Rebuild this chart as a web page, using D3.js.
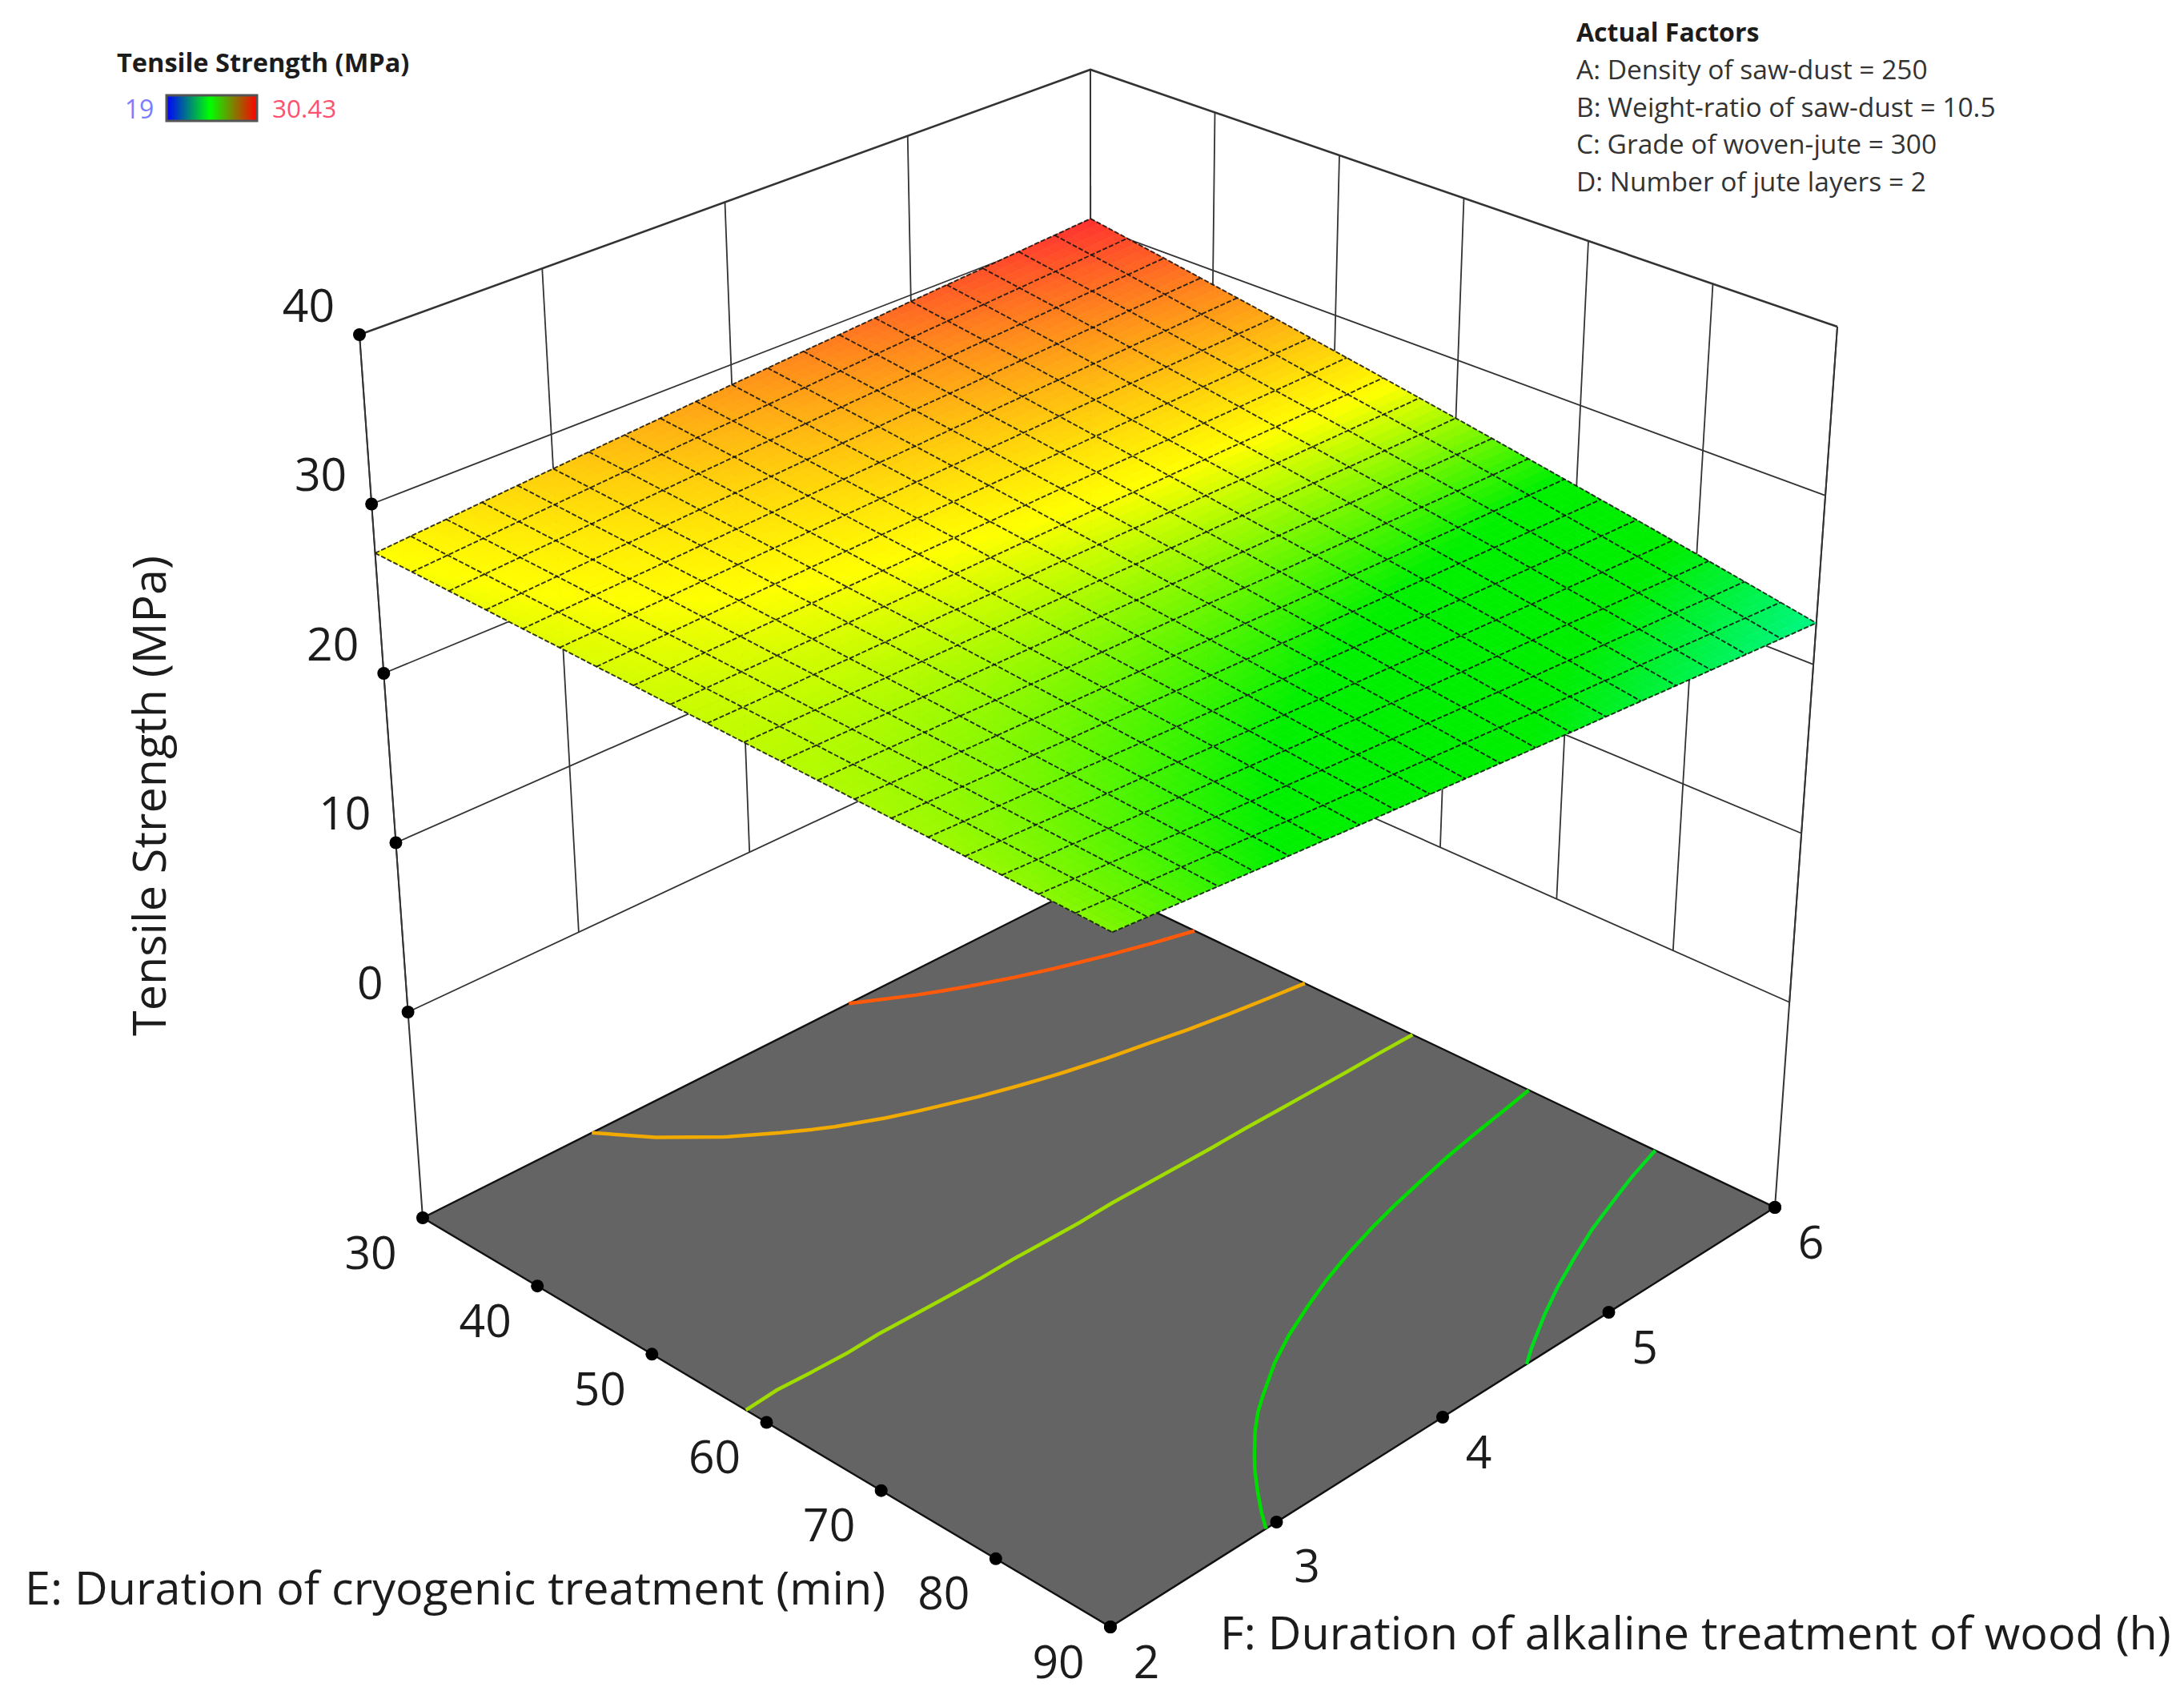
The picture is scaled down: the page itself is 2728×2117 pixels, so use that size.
<!DOCTYPE html>
<html>
<head>
<meta charset="utf-8">
<title>Tensile Strength surface</title>
<script src="https://cdn.jsdelivr.net/npm/d3@7"></script>
<style>
  body { margin: 0; background: #fff; }
  text { font-family: "Open Sans", sans-serif; fill: #1c1c1c; }
</style>
</head>
<body>
<script>
// values
var eTicks = [30, 40, 50, 60, 70, 80, 90];
var fTicks = [2, 3, 4, 5, 6];
var zTicks = [0, 10, 20, 30, 40];
var eGrid = [30, 33, 36, 39, 42, 45, 48, 51, 54, 57, 60, 63, 66, 69, 72, 75, 78, 81, 84, 87, 90];
var fGrid = [2, 2.2, 2.4, 2.6, 2.8, 3, 3.2, 3.4, 3.6, 3.8, 4, 4.2, 4.4, 4.6, 4.8, 5, 5.2, 5.4, 5.6, 5.8, 6];
// one row per value of E, one column per value of F
var strength = [
  [27.10,27.27,27.43,27.60,27.77,27.93,28.10,28.27,28.43,28.60,28.77,28.93,29.10,29.26,29.43,29.60,29.76,29.93,30.10,30.26,30.43],
  [27.06,27.20,27.35,27.50,27.65,27.80,27.95,28.10,28.25,28.39,28.54,28.69,28.84,28.99,29.14,29.29,29.44,29.58,29.73,29.88,30.03],
  [27.01,27.14,27.27,27.40,27.53,27.67,27.80,27.93,28.06,28.19,28.32,28.45,28.58,28.71,28.85,28.98,29.11,29.24,29.37,29.50,29.63],
  [26.97,27.08,27.19,27.31,27.42,27.53,27.65,27.76,27.87,27.99,28.10,28.21,28.33,28.44,28.55,28.67,28.78,28.89,29.01,29.12,29.23],
  [26.92,27.02,27.11,27.21,27.30,27.40,27.49,27.59,27.69,27.78,27.88,27.97,28.07,28.16,28.26,28.36,28.45,28.55,28.64,28.74,28.83],
  [26.88,26.95,27.03,27.11,27.19,27.27,27.34,27.42,27.50,27.58,27.66,27.73,27.81,27.89,27.97,28.05,28.12,28.20,28.28,28.36,28.44],
  [26.83,26.89,26.95,27.01,27.07,27.13,27.19,27.25,27.31,27.37,27.43,27.49,27.55,27.61,27.67,27.73,27.79,27.86,27.92,27.98,28.04],
  [26.79,26.83,26.87,26.91,26.96,27.00,27.04,27.08,27.13,27.17,27.21,27.25,27.30,27.34,27.38,27.42,27.47,27.51,27.55,27.59,27.64],
  [26.74,26.76,26.79,26.81,26.84,26.86,26.89,26.91,26.94,26.96,26.99,27.01,27.04,27.06,27.09,27.11,27.14,27.16,27.19,27.21,27.24],
  [26.70,26.70,26.71,26.72,26.72,26.73,26.74,26.75,26.75,26.76,26.77,26.77,26.78,26.79,26.80,26.80,26.81,26.82,26.83,26.83,26.84],
  [26.65,26.64,26.63,26.62,26.61,26.60,26.59,26.58,26.57,26.56,26.55,26.53,26.52,26.51,26.50,26.49,26.48,26.47,26.46,26.45,26.44],
  [26.61,26.58,26.55,26.52,26.49,26.46,26.44,26.41,26.38,26.35,26.32,26.29,26.27,26.24,26.21,26.18,26.15,26.13,26.10,26.07,26.04],
  [26.56,26.51,26.47,26.42,26.38,26.33,26.28,26.24,26.19,26.15,26.10,26.06,26.01,25.96,25.92,25.87,25.83,25.78,25.73,25.69,25.64],
  [26.52,26.45,26.39,26.32,26.26,26.20,26.13,26.07,26.01,25.94,25.88,25.82,25.75,25.69,25.62,25.56,25.50,25.43,25.37,25.31,25.24],
  [26.47,26.39,26.31,26.23,26.14,26.06,25.98,25.90,25.82,25.74,25.66,25.58,25.49,25.41,25.33,25.25,25.17,25.09,25.01,24.93,24.84],
  [26.43,26.33,26.23,26.13,26.03,25.93,25.83,25.73,25.63,25.53,25.44,25.34,25.24,25.14,25.04,24.94,24.84,24.74,24.64,24.54,24.45],
  [26.38,26.26,26.15,26.03,25.91,25.80,25.68,25.56,25.45,25.33,25.21,25.10,24.98,24.86,24.75,24.63,24.51,24.40,24.28,24.16,24.05],
  [26.34,26.20,26.07,25.93,25.80,25.66,25.53,25.39,25.26,25.13,24.99,24.86,24.72,24.59,24.45,24.32,24.19,24.05,23.92,23.78,23.65],
  [26.29,26.14,25.99,25.83,25.68,25.53,25.38,25.23,25.07,24.92,24.77,24.62,24.47,24.31,24.16,24.01,23.86,23.70,23.55,23.40,23.25],
  [26.25,26.08,25.91,25.74,25.57,25.40,25.23,25.06,24.89,24.72,24.55,24.38,24.21,24.04,23.87,23.70,23.53,23.36,23.19,23.02,22.85],
  [26.20,26.01,25.83,25.64,25.45,25.26,25.08,24.89,24.70,24.51,24.33,24.14,23.95,23.76,23.58,23.39,23.20,23.01,22.83,22.64,22.45]
];
var contourLevels = [23.85, 25.32, 26.68, 27.94, 29.22];
var contourColors = ["#00dc1e", "#00dc00", "#a0dc00", "#f0aa00", "#ff5a0a"];
var factorLines = [
  "A: Density of saw-dust = 250",
  "B: Weight-ratio of saw-dust = 10.5",
  "C: Grade of woven-jute = 300",
  "D: Number of jute layers = 2"
];

var w = 2728;
var h = 2117;

var svg = d3.select("body")
  .append("svg")
  .attr("width", w)
  .attr("height", h)
  .style("display", "block");

// box corners on screen, named by [E end, F end]
var floorBox = { lowLow: [528, 1521], highLow: [1387, 2032], highHigh: [2217, 1508], lowHigh: [1363, 1101] };
var topBox = { lowLow: [449, 418], highLow: [1390, 852], highHigh: [2295, 408], lowHigh: [1362, 87] };
var zFloor = -12.15;

var eScale = d3.scaleLinear().domain([30, 90]).range([0, 1]);
var fScale = d3.scaleLinear().domain([2, 6]).range([0, 1]);
var zScale = d3.scaleLinear().domain([zFloor, 40]).range([0, 1]);
// grid index to value, for the contours
var eIndex = d3.scaleLinear().domain([0, 20]).range([30, 90]);
var fIndex = d3.scaleLinear().domain([0, 20]).range([2, 6]);

var bilinear = function(box, u, v) {
  return [0, 1].map(function(k) {
    return (1 - u) * (1 - v) * box.lowLow[k] + u * (1 - v) * box.highLow[k] +
      u * v * box.highHigh[k] + (1 - u) * v * box.lowHigh[k];
  });
}

var project = function(e, f, z) {
  var u = eScale(e), v = fScale(f), t = zScale(z);
  var a = bilinear(floorBox, u, v);
  var b = bilinear(topBox, u, v);
  return [a[0] + (b[0] - a[0]) * t, a[1] + (b[1] - a[1]) * t];
}

var line = d3.line();

var colour = d3.scaleLinear()
  .domain([19, 21, 24, 25.3, 27.1, 30.43])
  .range(["#0000ff", "#00ffff", "#00ee00", "#00f000", "#ffff00", "#ff3030"])
  .clamp(true);

// back walls
var walls = svg.append("g")
  .attr("fill", "none")
  .attr("stroke", "#333");

zTicks.forEach(function(z) {
  walls.append("path")
    .attr("d", line([project(30, 2, z), project(30, 6, z), project(90, 6, z)]))
    .attr("stroke-width", z === 40 ? 2.6 : 1.8);
});
fTicks.forEach(function(f) {
  walls.append("path")
    .attr("d", line([project(30, f, 0), project(30, f, 40)]))
    .attr("stroke-width", 1.8);
});
eTicks.forEach(function(e) {
  walls.append("path")
    .attr("d", line([project(e, 6, 0), project(e, 6, 40)]))
    .attr("stroke-width", 1.8);
});
walls.append("path")
  .attr("d", line([project(30, 2, zFloor), project(30, 2, 40)]))
  .attr("stroke-width", 2);
walls.append("path")
  .attr("d", line([project(90, 6, zFloor), project(90, 6, 40)]))
  .attr("stroke-width", 2);

// floor
svg.append("path")
  .attr("d", line([project(30, 2, zFloor), project(90, 2, zFloor), project(90, 6, zFloor), project(30, 6, zFloor)]) + "Z")
  .attr("fill", "#646464")
  .attr("stroke", "#111")
  .attr("stroke-width", 2.4);

// contours on the floor, taken from the same grid
var contourGen = d3.contours()
  .size([fGrid.length, eGrid.length])
  .thresholds(contourLevels);

// d3.contours closes each ring around the edge of the grid, only keep the inner run
var innerRuns = function(ring) {
  var n = eGrid.length;
  var inside = function(p) {
    return p[0] >= 0.5 && p[0] <= n - 0.5 && p[1] >= 0.5 && p[1] <= n - 0.5;
  };
  var start = 0;
  while (start < ring.length && inside(ring[start])) start++;
  var runs = [], run = [];
  for (let i = 0; i < ring.length; i++) {
    let p = ring[(start + i) % ring.length];
    if (inside(p)) {
      run.push(p);
    } else {
      if (run.length > 1) runs.push(run);
      run = [];
    }
  }
  if (run.length > 1) runs.push(run);
  return runs;
}

var contourGroup = svg.append("g")
  .attr("fill", "none")
  .attr("stroke-width", 4.5);

contourGen(strength.flat()).forEach(function(c, i) {
  c.coordinates.forEach(function(polygon) {
    polygon.forEach(function(ring) {
      innerRuns(ring).forEach(function(run) {
        contourGroup.append("path")
          .attr("d", line(run.map(function(p) {
            return project(eIndex(p[1] - 0.5), fIndex(p[0] - 0.5), zFloor);
          })))
          .attr("stroke", contourColors[i]);
      });
    });
  });
});

// surface, every cell is split a few times so the colour runs smooth
var steps = 4;
var patches = [];
for (let i = 0; i < eGrid.length - 1; i++) {
  for (let j = 0; j < fGrid.length - 1; j++) {
    let z00 = strength[i][j], z01 = strength[i][j + 1], z10 = strength[i + 1][j], z11 = strength[i + 1][j + 1];
    let at = function(a, b) {
      let z = (1 - a) * (1 - b) * z00 + (1 - a) * b * z01 + a * (1 - b) * z10 + a * b * z11;
      return { z: z, p: project(eGrid[i] + a * (eGrid[i + 1] - eGrid[i]), fGrid[j] + b * (fGrid[j + 1] - fGrid[j]), z) };
    };
    for (let a = 0; a < steps; a++) {
      for (let b = 0; b < steps; b++) {
        let q = [at(a / steps, b / steps), at((a + 1) / steps, b / steps),
          at((a + 1) / steps, (b + 1) / steps), at(a / steps, (b + 1) / steps)];
        patches.push({
          d: line(q.map(function(o) { return o.p; })) + "Z",
          z: d3.mean(q, function(o) { return o.z; })
        });
      }
    }
  }
}

svg.append("g")
  .selectAll("path")
  .data(patches)
  .enter()
  .append("path")
  .attr("d", function(d) { return d.d; })
  .attr("fill", function(d) { return colour(d.z); })
  .attr("stroke", function(d) { return colour(d.z); })
  .attr("stroke-width", 0.7);

var mesh = svg.append("g")
  .attr("fill", "none")
  .attr("stroke", "#111")
  .attr("stroke-opacity", 0.85)
  .attr("stroke-width", 1.9)
  .attr("stroke-dasharray", "6 2.5");

eGrid.forEach(function(e, i) {
  mesh.append("path")
    .attr("d", line(fGrid.map(function(f, j) { return project(e, f, strength[i][j]); })));
});
fGrid.forEach(function(f, j) {
  mesh.append("path")
    .attr("d", line(eGrid.map(function(e, i) { return project(e, f, strength[i][j]); })));
});

// tick dots and labels
var dot = function(p) {
  svg.append("circle")
    .attr("cx", p[0])
    .attr("cy", p[1])
    .attr("r", 8)
    .attr("fill", "#000");
}
var label = function(x, y, s, anchor, size) {
  return svg.append("text")
    .attr("x", x)
    .attr("y", y)
    .attr("dy", "0.36em")
    .attr("text-anchor", anchor || "middle")
    .attr("font-size", size || 57)
    .text(s);
}

zTicks.forEach(function(z) {
  var p = project(30, 2, z);
  dot(p);
  label(p[0] - 31, p[1] - 37, z, "end");
});
eTicks.forEach(function(e) {
  var p = project(e, 2, zFloor);
  dot(p);
  label(p[0] - 65, p[1] + 43, e);
});
fTicks.forEach(function(f) {
  var p = project(90, f, zFloor);
  dot(p);
  // the 3 sits a little lower and closer in than the others
  label(p[0] + (f === 3 ? 38 : 45), p[1] + (f === 3 ? 54 : 43), f);
});
dot(project(90, 6, zFloor));

// axis titles
label(31, 1983, "E: Duration of cryogenic treatment (min)", "start", 57.5);
label(1524, 2039, "F: Duration of alkaline treatment of wood (h)", "start", 57.5);
label(0, 0, "Tensile Strength (MPa)", "middle", 57.5)
  .attr("transform", "translate(186,994) rotate(-90)");

// colour legend
var grad = svg.append("defs")
  .append("linearGradient")
  .attr("id", "legendGrad");
grad.append("stop").attr("offset", "0%").attr("stop-color", "#0000ff");
grad.append("stop").attr("offset", "48%").attr("stop-color", "#00ff00");
grad.append("stop").attr("offset", "100%").attr("stop-color", "#ff0000");

label(146, 78, "Tensile Strength (MPa)", "start", 32.5).attr("font-weight", "bold");
svg.append("rect")
  .attr("x", 208)
  .attr("y", 119)
  .attr("width", 113)
  .attr("height", 32)
  .attr("fill", "url(#legendGrad)")
  .attr("stroke", "#555")
  .attr("stroke-width", 3);
label(174, 136, "19", "middle", 32).style("fill", "#7d7dff");
label(340, 136, "30.43", "start", 31.5).style("fill", "#ff5070");

// fixed factors
label(1969, 40, "Actual Factors", "start", 32).attr("font-weight", "bold");
factorLines.forEach(function(s, i) {
  label(1969, 87 + i * 46.7, s, "start", 33.5).style("fill", "#333");
});
</script>
</body>
</html>
